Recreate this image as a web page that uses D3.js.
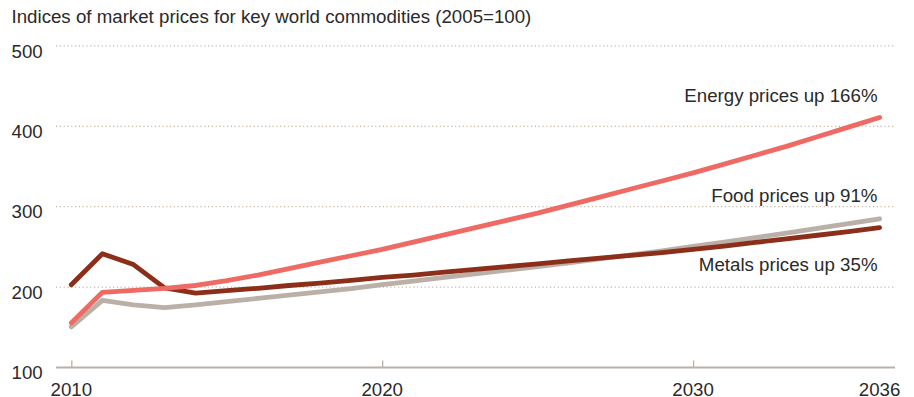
<!DOCTYPE html>
<html>
<head>
<meta charset="utf-8">
<script src="https://cdn.jsdelivr.net/npm/d3@7"></script>
<style>
  html, body { margin: 0; padding: 0; background: #fff; }
  svg { display: block; font-family: "Liberation Sans", Arial, Helvetica, sans-serif; }
</style>
</head>
<body>
<svg id="chart" width="914" height="397"></svg>
<script>
// Commodity price indices (2005 = 100), yearly 2010–2036
const years = d3.range(2010, 2037);

const energy = [155.5, 193.5, 196, 198.5, 202, 208, 215, 223, 231, 239, 247, 256, 265, 274,
  283, 292, 302, 312, 322, 332, 342, 353, 364, 375, 387, 399, 411];

const metals = [203, 241.5, 228, 199, 192.5, 195.5, 198.5, 202, 205, 208.5, 212, 215, 218.5,
  222, 225.5, 229, 232.5, 236, 239.5, 243, 247, 251, 255.5, 260, 264.5, 269, 274];

const food = [150.5, 183.5, 178, 174.5, 178, 182, 186, 190, 194, 198, 203, 207.5, 212,
  216.5, 221, 225.5, 230, 235, 240, 245, 250.5, 256, 261.5, 267, 273, 279, 285];

const yTicks = [100, 200, 300, 400, 500];
const xTicks = [2010, 2020, 2030, 2036];

const seriesNames = ["Food", "Metals", "Energy"];
const seriesLabels = ["Food prices up 91%", "Metals prices up 35%", "Energy prices up 166%"];
const seriesColors = ["#bab0a8", "#8c2f1a", "#ee6a62"];
const seriesValues = [food, metals, energy];

const title = "Indices of market prices for key world commodities (2005=100)";

const fontSize = 18.7;
const textColor = "#2a2a2a";

const svg = d3.select("#chart");
const x = d3.scaleLinear().domain([2010, 2036]).range([71.3, 879.6]);
const y = d3.scaleLinear().domain([100, 500]).range([367.5, 45.9]);

svg.append("text")
  .attr("x", 11.5).attr("y", 23.3)
  .attr("font-size", fontSize).attr("fill", textColor)
  .text(title);

// Dotted gridlines (the 100 level is the solid baseline)
const grid = svg.append("g");
grid.selectAll("line").data(yTicks.filter(d => d > 100)).join("line")
  .attr("x1", 56).attr("x2", 895)
  .attr("y1", d => y(d)).attr("y2", d => y(d))
  .attr("stroke", "#c9b7a6").attr("stroke-width", 1.2)
  .attr("stroke-dasharray", "1.2,2.6");

// Y tick labels
svg.append("g").selectAll("text").data(yTicks).join("text")
  .attr("x", 11.5).attr("y", d => y(d) + 11.6)
  .attr("font-size", fontSize).attr("fill", textColor)
  .text(d => d);

// X axis
const xAxis = d3.axisTop(x).tickValues(xTicks.slice(0, 3)).tickSize(7).tickFormat("");
const gx = svg.append("g").attr("transform", `translate(0,${y(100)})`).call(xAxis);
gx.select(".domain").remove();
gx.selectAll(".tick line").attr("stroke", "#bab0a8").attr("stroke-width", 1.3);
svg.append("line")
  .attr("x1", 56).attr("x2", 895).attr("y1", y(100)).attr("y2", y(100))
  .attr("stroke", "#bab0a8").attr("stroke-width", 2);

svg.append("g").selectAll("text").data(xTicks).join("text")
  .attr("x", d => x(d)).attr("y", 395.5)
  .attr("text-anchor", "middle")
  .attr("font-size", fontSize).attr("fill", textColor)
  .text(d => d);

// Series lines
const line = d3.line()
  .x((d, i) => x(years[i]))
  .y(d => y(d))
  .curve(d3.curveLinear);

svg.append("g").selectAll("path").data(seriesValues).join("path")
  .attr("d", d => line(d))
  .attr("fill", "none")
  .attr("stroke", (d, i) => seriesColors[i])
  .attr("stroke-width", 4.8)
  .attr("stroke-linecap", "round")
  .attr("stroke-linejoin", "round");

// Series labels, right aligned
const labelY = [201.7, 270.7, 101.7];
svg.append("g").selectAll("text").data(seriesLabels).join("text")
  .attr("x", 877.5).attr("y", (d, i) => labelY[i])
  .attr("text-anchor", "end")
  .attr("font-size", fontSize).attr("fill", textColor)
  .text(d => d);
</script>
</body>
</html>
